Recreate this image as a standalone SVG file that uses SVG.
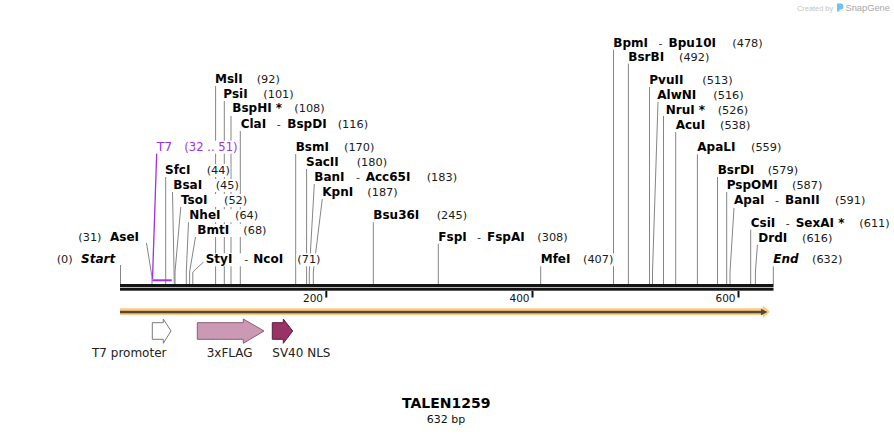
<svg xmlns="http://www.w3.org/2000/svg" width="894" height="434" viewBox="0 0 894 434">
<style>
text{font-family:"DejaVu Sans",Verdana,sans-serif}
.n{font-weight:bold;font-size:12px;fill:#000}
.i{font-weight:bold;font-style:italic;font-size:12px;fill:#000}
.p{font-size:11.3px;fill:#1a1a1a}
.d{font-size:11px;fill:#333}
.bg{fill:#fff}
.ln{stroke:#858585;stroke-width:1;fill:none}
.pu{fill:#a02ff0}
.fl{font-size:12px;fill:#222}
.tk{fill:#111}
</style>
<rect width="894" height="434" fill="#fff"/>
<!-- watermark -->
<g id="watermark">
<text x="797" y="10.5" style="font-family:'Liberation Sans',Arial,sans-serif;font-size:7.4px;fill:#c4c4c4">Created by</text>
<path d="M837 3.5 h3.5 a3 3 0 0 1 0 6 h-1 v2 h-2.5 z" fill="#6cc3ef"/>
<text x="845.5" y="10.8" style="font-family:'Liberation Sans',Arial,sans-serif;font-size:9.3px;fill:#a8a8a8">SnapGene</text>
</g>
<!-- sequence -->
<g id="sequence">
<rect x="120" y="284" width="653.5" height="3.3" fill="#141414"/>
<rect x="120" y="288" width="653.5" height="2.7" fill="#141414"/>
<rect x="325.3" y="291" width="2" height="6.5" class="tk"/>
<rect x="531.5" y="291" width="2" height="6.5" class="tk"/>
<rect x="737.5" y="291" width="2" height="6.5" class="tk"/>
<text x="323" y="301.5" text-anchor="end" style="font-size:10.5px;fill:#111">200</text>
<text x="529.5" y="301.5" text-anchor="end" style="font-size:10.5px;fill:#111">400</text>
<text x="735.5" y="301.5" text-anchor="end" style="font-size:10.5px;fill:#111">600</text>
</g>
<!-- orange feature bar -->
<g id="bar">
<polygon points="120,308.3 763,308.3 763,305.5 770,311.8 763,318 763,315 120,315" fill="#fdca7e"/>
<rect x="120" y="310.8" width="642" height="2.5" fill="#56483a"/>
<polygon points="761,308.8 767.5,312 761,315.3" fill="#56483a"/>
</g>
<!-- connectors -->
<g id="connectors">
<path class="ln" d="M120.5 265 V284"/>
<path class="ln" d="M146.5 243 L152 277 V284"/>
<path d="M156.7 153 L152.5 279" stroke="#a02ff0" stroke-width="1.3" fill="none"/>
<path class="ln" d="M165.7 177 V284"/>
<path class="ln" d="M172.5 192 L174.3 284"/>
<path class="ln" d="M180.8 207 L175 272 V284"/>
<path class="ln" d="M188.5 222 L186.3 272 V284"/>
<path class="ln" d="M195.5 237 L189.6 272 V284"/>
<path class="ln" d="M203.5 262 L192.8 272 V284"/>
<path class="ln" d="M215.6 86 V284"/>
<path class="ln" d="M224.3 101 V284"/>
<path class="ln" d="M231 116 V284" stroke="#aaa"/>
<path class="ln" d="M240.3 131 V284"/>
<path class="ln" d="M295.7 154 V284"/>
<path class="ln" d="M306.6 169 V284"/>
<path class="ln" d="M314.3 184 L309.3 272 V284"/>
<path class="ln" d="M322.3 199 L313.3 272 V284"/>
<path class="ln" d="M373.3 222 V284"/>
<path class="ln" d="M438.3 243 V284"/>
<path class="ln" d="M540.7 266 V284"/>
<path class="ln" d="M613.5 49 V284"/>
<path class="ln" d="M628.4 63 V284"/>
<path class="ln" d="M649.5 87 V284"/>
<path class="ln" d="M658 102 L652.5 272 V284"/>
<path class="ln" d="M663.5 116 V284" stroke="#aaa"/>
<path class="ln" d="M675.7 132 V284"/>
<path class="ln" d="M697.4 154 V284"/>
<path class="ln" d="M717.5 177 V284"/>
<path class="ln" d="M726.7 192 V284"/>
<path class="ln" d="M734 208 L730 272 V284"/>
<path class="ln" d="M750.7 229 V284" stroke="#aaa"/>
<path class="ln" d="M757.5 244 L755.4 272 V284"/>
<path class="ln" d="M773.3 266 V284"/>
<rect x="152.3" y="279.3" width="19.4" height="2" fill="#a02ff0"/>
</g>
<!-- enzyme / site labels -->
<g id="start"><rect class="bg" x="55" y="253.3" width="59.5" height="13"/><text class="p" x="56.7" y="263.3">(0)</text><text class="i" x="81" y="263.3">Start</text></g>
<g id="AseI"><rect class="bg" x="77" y="231" width="64" height="13"/><text class="p" x="78.3" y="241">(31)</text><text class="n" x="110" y="241">AseI</text></g>
<g id="T7"><rect class="bg" x="155" y="140.7" width="84" height="13"/><text class="pu" x="156.7" y="150.7" style="font-size:12.5px">T7</text><text class="pu" x="184.3" y="150.7" style="font-size:11.6px">(32 .. 51)</text></g>
<g id="SfcI"><rect class="bg" x="163.5" y="164" width="66.7" height="13"/><text class="n" x="165" y="174">SfcI</text><text class="p" x="206.7" y="174">(44)</text></g>
<g id="BsaI"><rect class="bg" x="172" y="179" width="67.4" height="13"/><text class="n" x="173.3" y="189">BsaI</text><text class="p" x="215.7" y="189">(45)</text></g>
<g id="TsoI"><rect class="bg" x="179.5" y="194" width="68.2" height="13"/><text class="n" x="181" y="204">TsoI</text><text class="p" x="224" y="204">(52)</text></g>
<g id="NheI"><rect class="bg" x="188" y="209.3" width="70.7" height="13"/><text class="n" x="189.3" y="219.3">NheI</text><text class="p" x="235" y="219.3">(64)</text></g>
<g id="BmtI"><rect class="bg" x="196" y="224" width="71" height="13"/><text class="n" x="197.3" y="234">BmtI</text><text class="p" x="243.3" y="234">(68)</text></g>
<g id="StyI-NcoI"><rect class="bg" x="204" y="253.3" width="80.5" height="13"/><rect class="bg" x="296.5" y="253.3" width="24.5" height="13"/><text class="n" x="205.7" y="263.3">StyI</text><text class="d" x="244.3" y="263.3">-</text><text class="n" x="253.3" y="263.3">NcoI</text><text class="p" x="297.3" y="263.3">(71)</text></g>
<g id="MslI"><rect class="bg" x="213.5" y="72.7" width="67" height="13"/><text class="n" x="215" y="82.7">MslI</text><text class="p" x="256.7" y="82.7">(92)</text></g>
<g id="PsiI"><rect class="bg" x="222" y="87.7" width="72" height="13"/><text class="n" x="223.3" y="97.7">PsiI</text><text class="p" x="263.3" y="97.7">(101)</text></g>
<g id="BspHI"><rect class="bg" x="231" y="102.3" width="94.5" height="13"/><text class="n" x="232.3" y="112.3">BspHI *</text><text class="p" x="294.3" y="112.3">(108)</text></g>
<g id="ClaI-BspDI"><rect class="bg" x="239.3" y="117.7" width="129.5" height="13"/><text class="n" x="240.7" y="127.7">ClaI</text><text class="d" x="276.7" y="127.7">-</text><text class="n" x="287.3" y="127.7">BspDI</text><text class="p" x="337.7" y="127.7">(116)</text></g>
<g id="BsmI"><rect class="bg" x="294.3" y="140.7" width="80.5" height="13"/><text class="n" x="295.7" y="150.7">BsmI</text><text class="p" x="344" y="150.7">(170)</text></g>
<g id="SacII"><rect class="bg" x="304.8" y="156" width="82.8" height="13"/><text class="n" x="306" y="166">SacII</text><text class="p" x="356.7" y="166">(180)</text></g>
<g id="BanI-Acc65I"><rect class="bg" x="313" y="170.7" width="144.6" height="13"/><text class="n" x="314.3" y="180.7">BanI</text><text class="d" x="356" y="180.7">-</text><text class="n" x="365.7" y="180.7">Acc65I</text><text class="p" x="426.7" y="180.7">(183)</text></g>
<g id="KpnI"><rect class="bg" x="321" y="185.7" width="77.2" height="13"/><text class="n" x="322.3" y="195.7">KpnI</text><text class="p" x="367.3" y="195.7">(187)</text></g>
<g id="Bsu36I"><rect class="bg" x="372" y="209.3" width="95.6" height="13"/><text class="n" x="373.3" y="219.3">Bsu36I</text><text class="p" x="436.7" y="219.3">(245)</text></g>
<g id="FspI-FspAI"><rect class="bg" x="437" y="230.7" width="131.2" height="13"/><text class="n" x="438.3" y="240.7">FspI</text><text class="d" x="477" y="240.7">-</text><text class="n" x="487" y="240.7">FspAI</text><text class="p" x="537.3" y="240.7">(308)</text></g>
<g id="MfeI"><rect class="bg" x="539.4" y="253.3" width="74.5" height="13"/><text class="n" x="540.7" y="263.3">MfeI</text><text class="p" x="583" y="263.3">(407)</text></g>
<g id="BpmI-Bpu10I"><rect class="bg" x="612" y="36.7" width="151.2" height="13"/><text class="n" x="613.3" y="46.7">BpmI</text><text class="d" x="658.5" y="46.7">-</text><text class="n" x="668.5" y="46.7">Bpu10I</text><text class="p" x="732.3" y="46.7">(478)</text></g>
<g id="BsrBI"><rect class="bg" x="627" y="50.7" width="82.9" height="13"/><text class="n" x="628.3" y="60.7">BsrBI</text><text class="p" x="679" y="60.7">(492)</text></g>
<g id="PvuII"><rect class="bg" x="648" y="74" width="85.2" height="13"/><text class="n" x="649.3" y="84">PvuII</text><text class="p" x="702.3" y="84">(513)</text></g>
<g id="AlwNI"><rect class="bg" x="656" y="89" width="88.2" height="13"/><text class="n" x="657.3" y="99">AlwNI</text><text class="p" x="713.3" y="99">(516)</text></g>
<g id="NruI"><rect class="bg" x="664.4" y="104" width="84.2" height="13"/><text class="n" x="665.7" y="114">NruI *</text><text class="p" x="717.7" y="114">(526)</text></g>
<g id="AcuI"><rect class="bg" x="674.4" y="119" width="76.5" height="13"/><text class="n" x="675.7" y="129">AcuI</text><text class="p" x="720" y="129">(538)</text></g>
<g id="ApaLI"><rect class="bg" x="696" y="141.3" width="85.9" height="13"/><text class="n" x="697.3" y="151.3">ApaLI</text><text class="p" x="751" y="151.3">(559)</text></g>
<g id="BsrDI"><rect class="bg" x="716.4" y="164" width="82.2" height="13"/><text class="n" x="717.7" y="174">BsrDI</text><text class="p" x="767.7" y="174">(579)</text></g>
<g id="PspOMI"><rect class="bg" x="725.4" y="179" width="98" height="13"/><text class="n" x="726.7" y="189">PspOMI</text><text class="p" x="792" y="189">(587)</text></g>
<g id="ApaI-BanII"><rect class="bg" x="732.7" y="194" width="133.7" height="13"/><text class="n" x="734" y="204">ApaI</text><text class="d" x="775" y="204">-</text><text class="n" x="785" y="204">BanII</text><text class="p" x="835" y="204">(591)</text></g>
<g id="CsiI-SexAI"><rect class="bg" x="749.4" y="216.7" width="141" height="13"/><text class="n" x="750.7" y="226.7">CsiI</text><text class="d" x="785.7" y="226.7">-</text><text class="n" x="795.7" y="226.7">SexAI *</text><text class="p" x="859.3" y="226.7">(611)</text></g>
<g id="DrdI"><rect class="bg" x="757" y="231.7" width="76.4" height="13"/><text class="n" x="758.3" y="241.7">DrdI</text><text class="p" x="802" y="241.7">(616)</text></g>
<g id="end"><rect class="bg" x="772" y="253.3" width="71.4" height="13"/><text class="i" x="773.3" y="263.3">End</text><text class="p" x="812" y="263.3">(632)</text></g>
<!-- features -->
<g id="T7-promoter"><polygon points="152.3,322.7 163.3,322.7 163.3,319 171,331 163.3,343.3 163.3,339.3 152.3,339.3" fill="#fff" stroke="#7a7a7a" stroke-width="1"/><text class="fl" x="92" y="356.7">T7 promoter</text></g>
<g id="3xFLAG"><polygon points="197.3,322.7 243.3,322.7 243.3,319 264,331 243.3,343.3 243.3,339.3 197.3,339.3" fill="#cc99b4" stroke="#8a5d76" stroke-width="1"/><text class="fl" x="206.7" y="356.7">3xFLAG</text></g>
<g id="SV40-NLS"><polygon points="272.3,322.7 283.3,322.7 283.3,319 292.7,331 283.3,343.3 283.3,339.3 272.3,339.3" fill="#993366" stroke="#5c1d3d" stroke-width="1"/><text class="fl" x="272.3" y="356.7">SV40 NLS</text></g>
<g id="title"><text x="446.2" y="408.3" text-anchor="middle" style="font-weight:bold;font-size:14px;fill:#000">TALEN1259</text><text x="446" y="422.5" text-anchor="middle" style="font-size:11px;fill:#111">632 bp</text></g>
</svg>
